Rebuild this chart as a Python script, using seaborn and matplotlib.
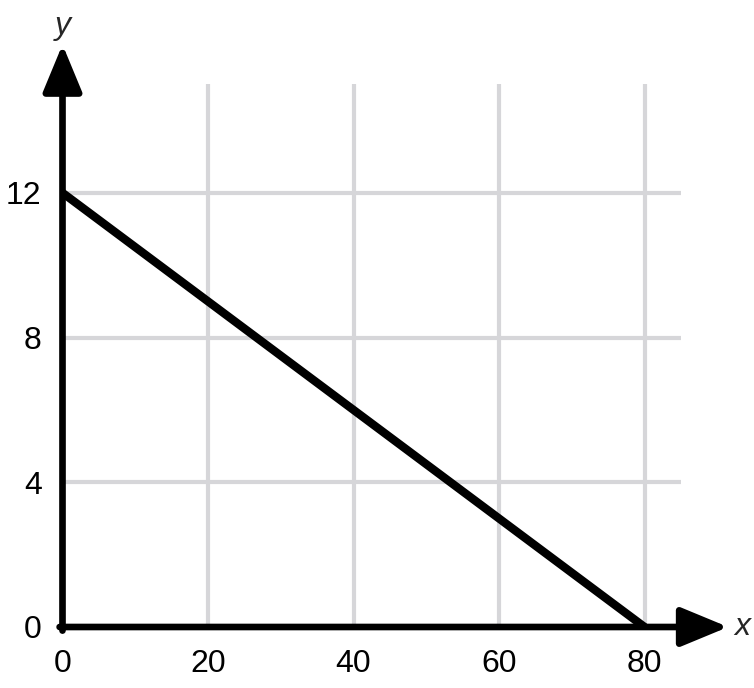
import matplotlib
matplotlib.use("Agg")
import matplotlib.pyplot as plt
import seaborn as sns
import pandas as pd

sns.set_theme(style="white")
plt.rcParams['font.family'] = ['Liberation Sans', 'DejaVu Sans']

# line data
x_vals = [0, 80]
y_vals = [12, 0]

# ticks and grid
x_ticks = [0, 20, 40, 60, 80]
y_ticks = [0, 4, 8, 12]
x_grid = [20, 40, 60, 80]
y_grid = [4, 8, 12]
grid_top = 15
grid_right = 85
x_arrow_end = 91.5
y_arrow_end = 16.1

fig = plt.figure(figsize=(7.54, 6.88), dpi=100)
ax = fig.add_axes([62.5 / 754, 61 / 688, (754 - 62.5) / 754, 627 / 688])
ax.set_xlim(0, 95.05)
ax.set_ylim(0, 17.33)

grid_col = '#d6d6d9'
ax.vlines(x_grid, 0, grid_top, color=grid_col, lw=3, zorder=1)
ax.hlines(y_grid, 0, grid_right, color=grid_col, lw=3, zorder=1)

df = pd.DataFrame({'x': x_vals, 'y': y_vals})
sns.lineplot(data=df, x='x', y='y', color='black', lw=6, ax=ax, zorder=3,
             solid_capstyle='butt')

arrow = dict(arrowstyle='-|>,head_length=2.9,head_width=1.2', color='black',
             lw=4.8, mutation_scale=10, shrinkA=0, shrinkB=0)
ax.annotate('', xy=(x_arrow_end, 0), xytext=(-0.4, 0), arrowprops=arrow,
            annotation_clip=False, zorder=4)
ax.annotate('', xy=(0, y_arrow_end), xytext=(0, -0.1), arrowprops=arrow,
            annotation_clip=False, zorder=4)

for s in ax.spines.values():
    s.set_visible(False)
ax.set_xticks(x_ticks)
ax.set_yticks(y_ticks)
ax.set_xticklabels([str(v) for v in x_ticks])
ax.set_yticklabels([str(v) for v in y_ticks])
ax.tick_params(axis='both', length=0, labelsize=23, colors='black')
ax.tick_params(axis='x', pad=16)
ax.tick_params(axis='y', pad=15)
ax.set_xlabel('')
ax.set_ylabel('')

ax.text(0, 16.6, 'y', fontsize=23, style='italic', ha='center', va='center')
ax.text(93.5, 0, 'x', fontsize=23, style='italic', ha='center', va='center')

fig.savefig('out.png', dpi=100)
